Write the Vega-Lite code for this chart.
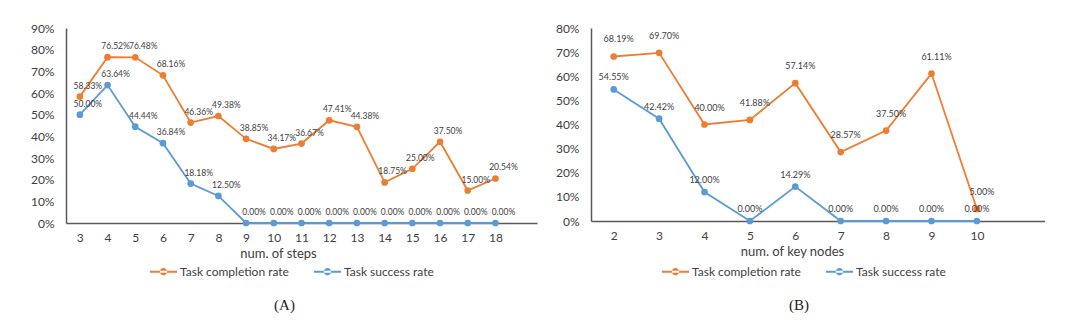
{
  "$schema": "https://vega.github.io/schema/vega-lite/v6.json",
  "background": "white",
  "padding": {"left": 30, "top": 22, "right": 0, "bottom": 0},
  "spacing": 18,
  "config": {
    "view": {"stroke": null},
    "font": "Lato",
    "axis": {"grid": false, "ticks": false, "domainColor": "#595959", "domainWidth": 1.5, "labelColor": "#404040", "labelFont": "Lato", "labelFontSize": 12, "titleColor": "#404040", "titleFont": "Lato", "titleFontSize": 13, "titleFontWeight": "normal"},
    "legend": {"orient": "none", "direction": "horizontal", "title": null, "labelFont": "Lato", "labelFontSize": 12, "labelColor": "#404040", "symbolType": "M-1,-0.07L1,-0.07L1,0.07L-1,0.07Z M-0.27,0A0.27,0.27 0 1,0 0.27,0A0.27,0.27 0 1,0 -0.27,0Z", "symbolSize": 729, "symbolStrokeWidth": 0, "labelOffset": 3, "columnPadding": 25},
    "title": {"font": "Liberation Serif", "fontSize": 15, "fontWeight": "normal", "color": "#222222", "orient": "bottom", "anchor": "middle"}
  },
  "datasets": {
    "a": [
      {"x": 3, "series": "Task completion rate", "value": 0.5833},
      {"x": 4, "series": "Task completion rate", "value": 0.7652},
      {"x": 5, "series": "Task completion rate", "value": 0.7648},
      {"x": 6, "series": "Task completion rate", "value": 0.6816},
      {"x": 7, "series": "Task completion rate", "value": 0.4636},
      {"x": 8, "series": "Task completion rate", "value": 0.4938},
      {"x": 9, "series": "Task completion rate", "value": 0.3885},
      {"x": 10, "series": "Task completion rate", "value": 0.3417},
      {"x": 11, "series": "Task completion rate", "value": 0.3667},
      {"x": 12, "series": "Task completion rate", "value": 0.4741},
      {"x": 13, "series": "Task completion rate", "value": 0.4438},
      {"x": 14, "series": "Task completion rate", "value": 0.1875},
      {"x": 15, "series": "Task completion rate", "value": 0.25},
      {"x": 16, "series": "Task completion rate", "value": 0.375},
      {"x": 17, "series": "Task completion rate", "value": 0.15},
      {"x": 18, "series": "Task completion rate", "value": 0.2054},
      {"x": 3, "series": "Task success rate", "value": 0.5},
      {"x": 4, "series": "Task success rate", "value": 0.6364},
      {"x": 5, "series": "Task success rate", "value": 0.4444},
      {"x": 6, "series": "Task success rate", "value": 0.3684},
      {"x": 7, "series": "Task success rate", "value": 0.1818},
      {"x": 8, "series": "Task success rate", "value": 0.125},
      {"x": 9, "series": "Task success rate", "value": 0},
      {"x": 10, "series": "Task success rate", "value": 0},
      {"x": 11, "series": "Task success rate", "value": 0},
      {"x": 12, "series": "Task success rate", "value": 0},
      {"x": 13, "series": "Task success rate", "value": 0},
      {"x": 14, "series": "Task success rate", "value": 0},
      {"x": 15, "series": "Task success rate", "value": 0},
      {"x": 16, "series": "Task success rate", "value": 0},
      {"x": 17, "series": "Task success rate", "value": 0},
      {"x": 18, "series": "Task success rate", "value": 0}
    ],
    "b": [
      {"x": 2, "series": "Task completion rate", "value": 0.6819},
      {"x": 3, "series": "Task completion rate", "value": 0.697},
      {"x": 4, "series": "Task completion rate", "value": 0.4},
      {"x": 5, "series": "Task completion rate", "value": 0.4188},
      {"x": 6, "series": "Task completion rate", "value": 0.5714},
      {"x": 7, "series": "Task completion rate", "value": 0.2857},
      {"x": 8, "series": "Task completion rate", "value": 0.375},
      {"x": 9, "series": "Task completion rate", "value": 0.6111},
      {"x": 10, "series": "Task completion rate", "value": 0.05},
      {"x": 2, "series": "Task success rate", "value": 0.5455},
      {"x": 3, "series": "Task success rate", "value": 0.4242},
      {"x": 4, "series": "Task success rate", "value": 0.12},
      {"x": 5, "series": "Task success rate", "value": 0},
      {"x": 6, "series": "Task success rate", "value": 0.1429},
      {"x": 7, "series": "Task success rate", "value": 0},
      {"x": 8, "series": "Task success rate", "value": 0},
      {"x": 9, "series": "Task success rate", "value": 0},
      {"x": 10, "series": "Task success rate", "value": 0}
    ]
  },
  "resolve": {"scale": {"color": "independent", "x": "independent", "y": "independent"}, "legend": {"color": "independent"}},
  "hconcat": [
    {
      "width": 471,
      "height": 195,
      "title": {"text": "(A)", "dx": -17, "offset": 20},
      "data": {"name": "a"},
      "encoding": {
        "x": {"field": "x", "type": "quantitative", "scale": {"domain": [2.5, 19.5], "nice": false, "zero": false},
              "axis": {"values": [3,4,5,6,7,8,9,10,11,12,13,14,15,16,17,18], "format": "d", "labelPadding": 9, "title": "num. of steps", "titleX": 212, "titleY": 30, "titleBaseline": "middle", "titleAnchor": null}},
        "y": {"field": "value", "type": "quantitative", "scale": {"domain": [0, 0.9], "nice": false},
              "axis": {"values": [0,0.1,0.2,0.3,0.4,0.5,0.6,0.7,0.8,0.9], "format": ".0%", "labelPadding": 12, "title": null}}
      },
      "layer": [
        {
          "mark": {"type": "line", "strokeWidth": 1.8, "point": {"filled": true, "size": 45}},
          "encoding": {
            "color": {"field": "series", "type": "nominal", "scale": {"domain": ["Task completion rate", "Task success rate"], "range": ["#ED7D31", "#5B9BD5"]},
              "legend": {"legendX": 84, "legendY": 230, "encode": {"symbols": {"update": {"fill": {"signal": "datum.value === 'Task completion rate' ? '#ED7D31' : '#5B9BD5'"}, "strokeWidth": {"value": 0}}}}}}
          }
        },
        {
          "mark": {"type": "text", "fontSize": 8.5, "color": "#404040", "dx": 8, "dy": -11, "font": "Lato"},
          "encoding": {"text": {"field": "value", "type": "quantitative", "format": ".2%"}}
        }
      ]
    },
    {
      "width": 454,
      "height": 193,
      "title": {"text": "(B)", "dx": -19, "offset": 20},
      "data": {"name": "b"},
      "encoding": {
        "x": {"field": "x", "type": "quantitative", "scale": {"domain": [1.5, 11.5], "nice": false, "zero": false},
              "axis": {"values": [2,3,4,5,6,7,8,9,10], "format": "d", "labelPadding": 9, "title": "num. of key nodes", "titleX": 201, "titleY": 30, "titleBaseline": "middle", "titleAnchor": null}},
        "y": {"field": "value", "type": "quantitative", "scale": {"domain": [0, 0.8], "nice": false},
              "axis": {"values": [0,0.1,0.2,0.3,0.4,0.5,0.6,0.7,0.8], "format": ".0%", "labelPadding": 12, "title": null}}
      },
      "layer": [
        {
          "mark": {"type": "line", "strokeWidth": 1.8, "point": {"filled": true, "size": 45}},
          "encoding": {
            "color": {"field": "series", "type": "nominal", "scale": {"domain": ["Task completion rate", "Task success rate"], "range": ["#ED7D31", "#5B9BD5"]},
              "legend": {"legendX": 71, "legendY": 230, "encode": {"symbols": {"update": {"fill": {"signal": "datum.value === 'Task completion rate' ? '#ED7D31' : '#5B9BD5'"}, "strokeWidth": {"value": 0}}}}}}
          }
        },
        {
          "transform": [{"filter": "datum.series === 'Task completion rate'"}],
          "mark": {"type": "text", "fontSize": 9, "color": "#404040", "dx": 5, "dy": -17, "font": "Lato"},
          "encoding": {"text": {"field": "value", "type": "quantitative", "format": ".2%"}}
        },
        {
          "transform": [{"filter": "datum.series === 'Task success rate'"}],
          "mark": {"type": "text", "fontSize": 9, "color": "#404040", "dx": 0, "dy": -12, "font": "Lato"},
          "encoding": {"text": {"field": "value", "type": "quantitative", "format": ".2%"}}
        }
      ]
    }
  ]
}
